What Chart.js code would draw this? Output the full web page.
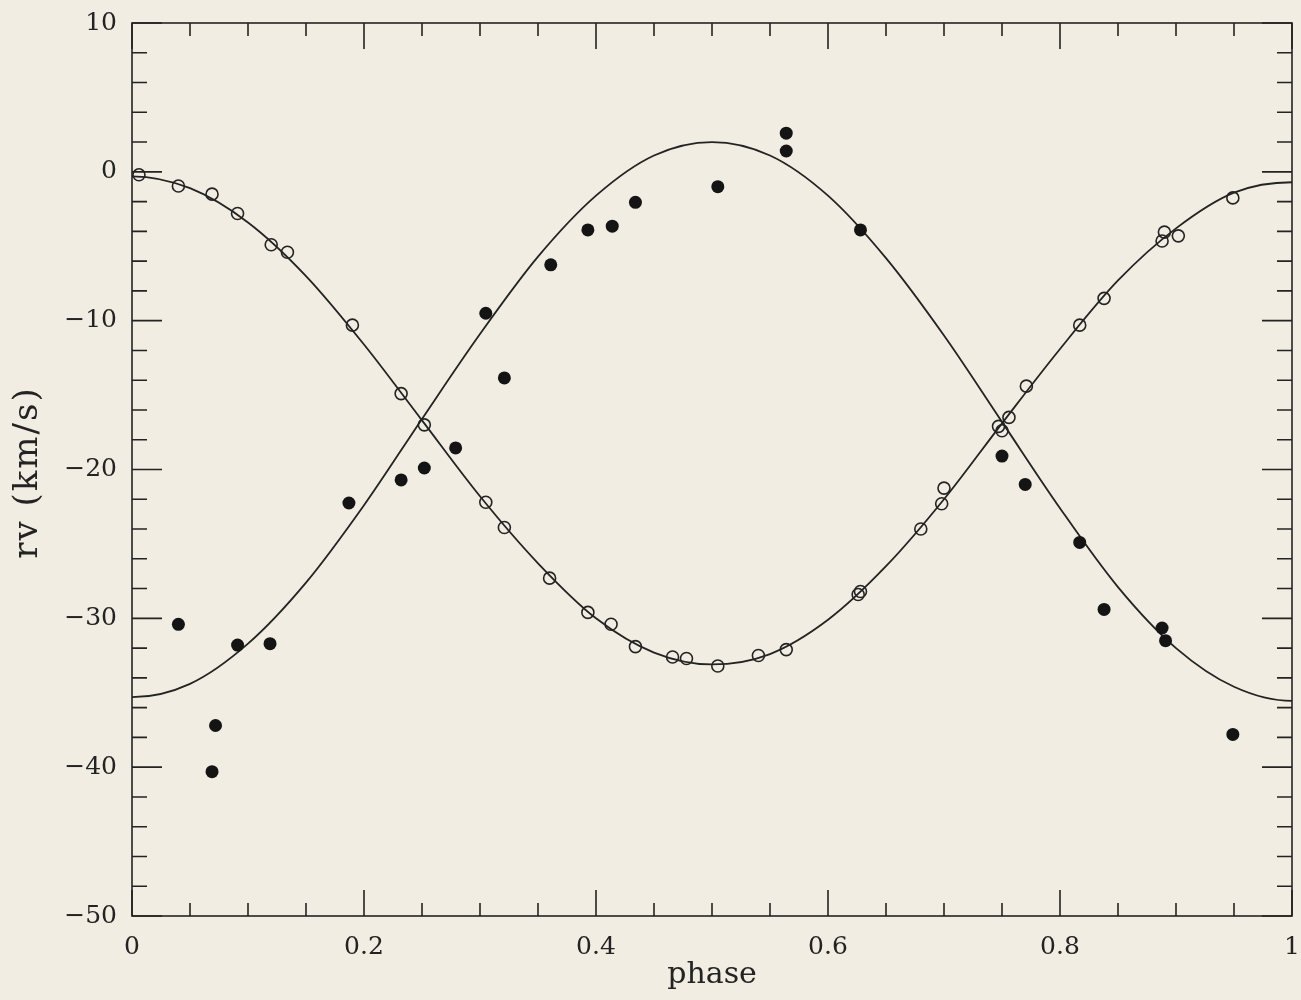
<!DOCTYPE html>
<html>
<head>
<meta charset="utf-8">
<title>rv vs phase</title>
<script src="https://cdn.jsdelivr.net/npm/chart.js@4.4.1/dist/chart.umd.min.js"></script>
<style>
  html, body { margin: 0; padding: 0; background: #f1ede2; }
  #wrap { width: 1301px; height: 1000px; position: relative; }
</style>
</head>
<body>
<div id="wrap"><canvas id="c"></canvas></div>
<script>
// Primary component (open circles): orbital phase and radial velocity (km/s)
const phaseOpen = [0.006, 0.040, 0.069, 0.091, 0.120, 0.134, 0.190, 0.232, 0.252, 0.305,
                   0.321, 0.360, 0.393, 0.413, 0.434, 0.466, 0.478, 0.505, 0.540, 0.564,
                   0.626, 0.628, 0.680, 0.698, 0.700, 0.747, 0.750, 0.756, 0.771, 0.817,
                   0.838, 0.888, 0.890, 0.902, 0.949];
const rvOpen    = [-0.2, -0.95, -1.5, -2.8, -4.9, -5.4, -10.3, -14.9, -17.0, -22.2,
                   -23.9, -27.3, -29.6, -30.4, -31.9, -32.6, -32.7, -33.2, -32.5, -32.1,
                   -28.4, -28.2, -24.0, -22.3, -21.25, -17.1, -17.4, -16.5, -14.4, -10.3,
                   -8.5, -4.65, -4.05, -4.3, -1.75];

// Secondary component (filled circles)
const phaseFilled = [0.040, 0.069, 0.072, 0.091, 0.119, 0.187, 0.232, 0.252, 0.279, 0.305,
                     0.321, 0.361, 0.393, 0.414, 0.434, 0.505, 0.564, 0.564, 0.628, 0.750,
                     0.770, 0.817, 0.838, 0.888, 0.891, 0.949];
const rvFilled    = [-30.4, -40.3, -37.2, -31.8, -31.7, -22.25, -20.7, -19.9, -18.55, -9.5,
                     -13.85, -6.25, -3.9, -3.65, -2.05, -1.0, 2.6, 1.4, -3.9, -19.1,
                     -21.0, -24.9, -29.4, -30.65, -31.5, -37.8];

// Orbit solution curves, sampled every 0.05 in phase (one step past each
// end of the cycle so the curve turns over smoothly at phase 0 and 1)
const curvePhase  = [-0.05, 0, 0.05, 0.10, 0.15, 0.20, 0.25, 0.30, 0.35, 0.40, 0.45, 0.50,
                     0.55, 0.60, 0.65, 0.70, 0.75, 0.80, 0.85, 0.90, 0.95, 1.00, 1.05];
const curveOpen   = [-1.3, -0.3, -1.1, -3.4, -7.0, -11.6, -16.7, -21.8, -26.3, -30.0, -32.3, -33.1,
                     -32.4, -30.1, -26.5, -22.0, -16.9, -11.9, -7.3, -3.8, -1.4, -0.7, -1.5];
const curveFilled = [-34.5, -35.3, -34.4, -31.7, -27.6, -22.4, -16.6, -10.9, -5.7, -1.6, 1.1, 2.0,
                     1.1, -1.6, -5.8, -11.0, -16.8, -22.6, -27.9, -32.0, -34.6, -35.55, -34.6];

// Labelled ticks and axis titles
const xMajorTicks = [0, 0.2, 0.4, 0.6, 0.8, 1];
const yMajorTicks = [10, 0, -10, -20, -30, -40, -50];
const xTitle = 'phase';
const yTitle = 'rv (km/s)';

const INK = '#232323';
const PAPER = '#f1ede2';
const FONT = "'DejaVu Serif', 'Liberation Serif', serif";

const toPoints = (xs, ys) => xs.map((x, i) => ({ x: x, y: ys[i] }));
const isMajor = (list, v) => list.some(t => Math.abs(t - v) < 1e-6);
const fmtNum = v => {
  const s = String(Math.round(v * 100) / 100);
  return s.replace('-', '\u2212');
};

// Paper background, plot frame, inward-pointing ticks on all four sides
// and the vertical axis title
const framePlugin = {
  id: 'frame',
  beforeDraw(chart) {
    const ctx = chart.ctx;
    ctx.save();
    ctx.fillStyle = PAPER;
    ctx.fillRect(0, 0, chart.width, chart.height);
    ctx.restore();
  },
  afterDatasetsDraw(chart) {
    const { ctx, chartArea: a, scales } = chart;
    ctx.save();
    ctx.strokeStyle = INK;
    ctx.lineWidth = 1.6;
    ctx.strokeRect(a.left, a.top, a.right - a.left, a.bottom - a.top);
    ctx.beginPath();
    scales.x.ticks.forEach(t => {
      const px = scales.x.getPixelForValue(t.value);
      const len = isMajor(xMajorTicks, t.value) ? 26 : 13;
      ctx.moveTo(px, a.bottom); ctx.lineTo(px, a.bottom - len);
      ctx.moveTo(px, a.top);    ctx.lineTo(px, a.top + len);
    });
    scales.y.ticks.forEach(t => {
      const py = scales.y.getPixelForValue(t.value);
      const len = isMajor(yMajorTicks, t.value) ? 30 : 15;
      ctx.moveTo(a.left, py);  ctx.lineTo(a.left + len, py);
      ctx.moveTo(a.right, py); ctx.lineTo(a.right - len, py);
    });
    ctx.stroke();

    // vertical axis title
    ctx.fillStyle = INK;
    ctx.font = '34px ' + FONT;
    ctx.letterSpacing = '2px';
    ctx.textAlign = 'center';
    ctx.textBaseline = 'middle';
    ctx.translate(28, (a.top + a.bottom) / 2 + 4);
    ctx.rotate(-Math.PI / 2);
    ctx.fillText(yTitle, 1, 0);
    ctx.restore();
  }
};

new Chart(document.getElementById('c'), {
  type: 'scatter',
  data: {
    datasets: [
      {
        label: 'primary',
        data: toPoints(phaseOpen, rvOpen),
        pointStyle: 'circle',
        pointRadius: 6,
        pointBorderWidth: 1.6,
        pointBorderColor: INK,
        pointBackgroundColor: 'rgba(0,0,0,0)'
      },
      {
        label: 'secondary',
        data: toPoints(phaseFilled, rvFilled),
        pointStyle: 'circle',
        pointRadius: 6.5,
        pointBorderWidth: 0,
        pointBackgroundColor: '#141414',
        pointBorderColor: '#141414'
      },
      {
        label: 'primary orbit',
        data: toPoints(curvePhase, curveOpen),
        showLine: true,
        clip: 0,
        pointRadius: 0,
        borderColor: INK,
        borderWidth: 1.8,
        cubicInterpolationMode: 'monotone'
      },
      {
        label: 'secondary orbit',
        data: toPoints(curvePhase, curveFilled),
        showLine: true,
        clip: 0,
        pointRadius: 0,
        borderColor: INK,
        borderWidth: 1.8,
        cubicInterpolationMode: 'monotone'
      }
    ]
  },
  options: {
    responsive: true,
    maintainAspectRatio: false,
    animation: false,
    layout: { padding: { left: 0, top: 23, right: 9, bottom: 0 } },
    plugins: {
      legend: { display: false },
      tooltip: { enabled: false }
    },
    scales: {
      x: {
        type: 'linear',
        min: 0, max: 1,
        afterFit(scale) {
          scale.height = 84;
          scale.paddingLeft = 0;
          scale.paddingRight = 0;
        },
        grid: { display: false, drawTicks: false },
        border: { display: false },
        ticks: {
          stepSize: 0.05,
          autoSkip: false,
          maxRotation: 0,
          padding: 16,
          color: INK,
          font: { family: FONT, size: 25 },
          callback: v => isMajor(xMajorTicks, v) ? fmtNum(v) : ''
        },
        title: {
          display: true,
          text: xTitle,
          color: INK,
          font: { family: FONT, size: 30 },
          padding: { top: 0, bottom: 7 }
        }
      },
      y: {
        type: 'linear',
        min: -50, max: 10,
        afterFit(scale) {
          scale.width = 132;
          scale.paddingTop = 0;
          scale.paddingBottom = 0;
        },
        grid: { display: false, drawTicks: false },
        border: { display: false },
        ticks: {
          stepSize: 2,
          autoSkip: false,
          padding: 15,
          color: INK,
          font: { family: FONT, size: 25 },
          callback: v => isMajor(yMajorTicks, v) ? fmtNum(v) : ''
        },
        title: { display: false }
      }
    }
  },
  plugins: [framePlugin]
});
</script>
</body>
</html>
